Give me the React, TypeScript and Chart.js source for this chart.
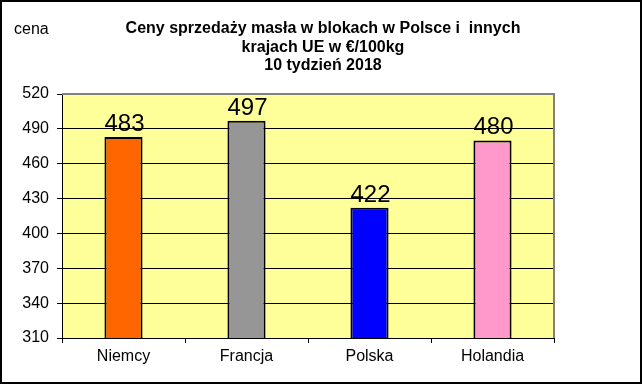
import React, { useEffect, useRef } from "react";
import { Chart, registerables } from "chart.js";

Chart.register(...registerables);

const categories = ["Niemcy", "Francja", "Polska", "Holandia"];
const prices = [483, 497, 422, 480];
const barColors = ["#FF6600", "#969696", "#0000FF", "#FF99CC"];
const titleLines = ["Ceny sprzedaży masła w blokach w Polsce i  innych", "krajach UE w €/100kg", "10 tydzień 2018"];
const yAxisLabel = "cena";
const yMin = 310;
const yMax = 520;
const yStep = 30;

const FONT = "Arial, 'Liberation Sans', sans-serif";

export default function App() {
  const ref = useRef<HTMLCanvasElement | null>(null);

  useEffect(() => {
    document.body.style.margin = "0";
    const canvas = ref.current;
    if (!canvas) return;

    const decor = {
      id: "decor",
      beforeDraw(chart: any) {
        const { ctx, chartArea } = chart;
        ctx.save();
        ctx.fillStyle = "#FFFFFF";
        ctx.fillRect(0, 0, chart.width, chart.height);
        ctx.fillStyle = "#FFFF99";
        ctx.fillRect(chartArea.left, chartArea.top, chartArea.right - chartArea.left, chartArea.bottom - chartArea.top);
        ctx.restore();
      },
      afterDraw(chart: any) {
        const { ctx, chartArea } = chart;
        ctx.save();
        // plot border top/right
        ctx.strokeStyle = "#808080";
        ctx.lineWidth = 2;
        ctx.beginPath();
        ctx.moveTo(chartArea.left, chartArea.top);
        ctx.lineTo(chartArea.right, chartArea.top);
        ctx.lineTo(chartArea.right, chartArea.bottom);
        ctx.stroke();
        // outer border
        ctx.strokeStyle = "#000";
        ctx.lineWidth = 2;
        ctx.strokeRect(1, 1, chart.width - 2, chart.height - 3);
        // title
        ctx.fillStyle = "#000";
        ctx.font = `bold 16px ${FONT}`;
        ctx.textAlign = "center";
        ctx.textBaseline = "alphabetic";
        titleLines.forEach((l, i) => ctx.fillText(l, 323, 33 + i * 18.5));
        // y label
        ctx.font = `16px ${FONT}`;
        ctx.textAlign = "left";
        ctx.fillText(yAxisLabel, 14, 34);
        // data labels
        const meta = chart.getDatasetMeta(0);
        ctx.font = `24px ${FONT}`;
        ctx.textAlign = "center";
        meta.data.forEach((bar: any, i: number) => {
          ctx.fillText(String(prices[i]), bar.x + 1, bar.y - 6);
        });
        ctx.restore();
      },
    };

    const chart = new Chart(canvas, {
      type: "bar",
      data: {
        labels: categories,
        datasets: [
          {
            data: prices,
            backgroundColor: barColors,
            borderColor: "#000",
            borderWidth: 2,
            borderSkipped: "bottom",
            categoryPercentage: 1,
            barPercentage: 0.31,
          },
        ],
      },
      options: {
        responsive: false,
        animation: false,
        layout: { padding: { top: 94, right: 88, left: 0, bottom: 0 } },
        plugins: { legend: { display: false }, tooltip: { enabled: false } },
        scales: {
          x: {
            afterFit: (s: any) => {
              s.height = 47;
            },
            grid: { offset: true, drawOnChartArea: false, color: "#000", tickLength: 5 },
            border: { color: "#000", width: 1 },
            ticks: { color: "#000", font: { size: 16, family: FONT }, padding: 4 },
          },
          y: {
            min: yMin,
            max: yMax,
            afterFit: (s: any) => {
              s.width = 62;
            },
            grid: {
              color: (c: any) => (c.tick && c.tick.value === yMax ? "#808080" : "#000"),
              tickColor: "#000",
              tickLength: 5,
            },
            border: { color: "#000", width: 1 },
            ticks: { stepSize: yStep, color: "#000", font: { size: 16, family: FONT }, padding: 8 },
          },
        },
      },
      plugins: [decor],
    });
    return () => chart.destroy();
  }, []);

  return <canvas ref={ref} width={642} height={385} style={{ display: "block" }} />;
}
